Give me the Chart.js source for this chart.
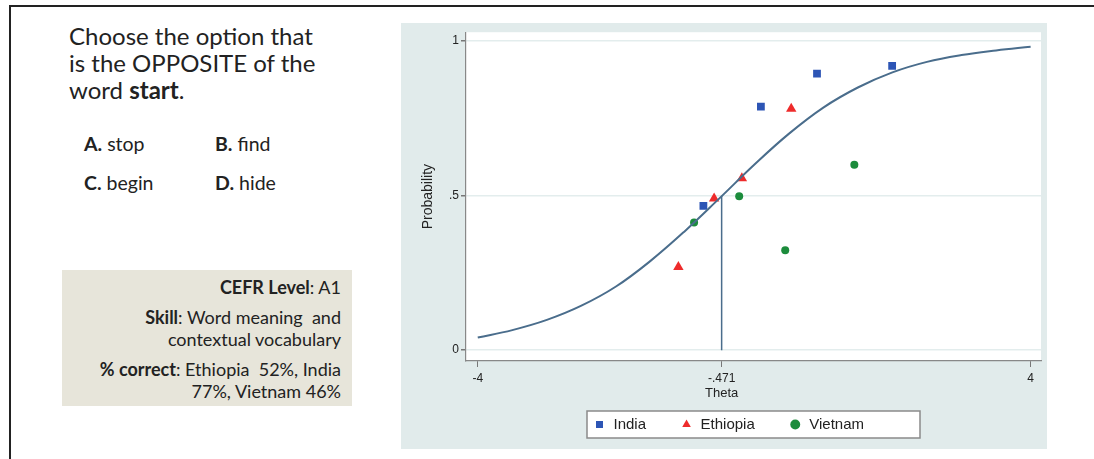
<!DOCTYPE html>
<html>
<head>
<meta charset="utf-8">
<script src="https://cdn.jsdelivr.net/npm/chart.js@4/dist/chart.umd.min.js"></script>
<style>
  body { margin: 0; background: #fff; width: 1094px; height: 459px; overflow: hidden; position: relative; font-family: Lato, "Open Sans", sans-serif; color: #222; }
  .frame-top { position: absolute; left: 9px; top: 5px; width: 1085px; height: 2px; background: #222; }
  .frame-left { position: absolute; left: 9px; top: 5px; width: 2px; height: 454px; background: #222; }
  .question { position: absolute; left: 69px; top: 22px; font-size: 24px; line-height: 27px; white-space: nowrap; }
  .opt { position: absolute; font-size: 19.5px; white-space: nowrap; }
  .info { position: absolute; left: 62px; top: 270px; width: 290px; height: 136px; background: #e7e5da; }
  .info div { position: absolute; right: 11px; font-size: 18px; white-space: nowrap; }
  #wrap { position: absolute; left: 401px; top: 23px; width: 646px; height: 426px; }
</style>
</head>
<body>
<div class="frame-top"></div>
<div class="frame-left"></div>

<div class="question">Choose the option that<br>is the OPPOSITE of the<br>word <b>start</b>.</div>
<div class="opt" style="left:84px; top:132px"><b>A.</b> stop</div>
<div class="opt" style="left:215px; top:132px"><b>B.</b> find</div>
<div class="opt" style="left:84px; top:171px"><b>C.</b> begin</div>
<div class="opt" style="left:215px; top:171px"><b>D.</b> hide</div>

<div class="info">
  <div style="top:6px"><b>CEFR Level</b>: A1</div>
  <div style="top:36px"><b>Skill</b>: Word meaning&nbsp; and</div>
  <div style="top:58px">contextual vocabulary</div>
  <div style="top:88px"><b>% correct</b>: Ethiopia&nbsp; 52%, India</div>
  <div style="top:110px">77%, Vietnam 46%</div>
</div>

<div id="wrap"><canvas id="c" width="646" height="426"></canvas></div>

<script>
// item characteristic curve
const curveTheta = [-4, -3.5, -3, -2.5, -2, -1.5, -1, -0.5, 0, 0.5, 1, 1.5, 2, 2.5, 3, 3.5, 4];
const curveProb = [0.041, 0.065, 0.098, 0.144, 0.206, 0.289, 0.386, 0.492, 0.600, 0.700, 0.785, 0.850, 0.899, 0.933, 0.955, 0.970, 0.982];

// item difficulty marker
const difficulty = -0.471;

// observed proportions by country
const indiaTheta = [-0.735, 0.097, 0.909, 1.996];
const indiaProb = [0.467, 0.788, 0.895, 0.920];
const ethiopiaTheta = [-1.097, -0.580, -0.178, 0.536];
const ethiopiaProb = [0.269, 0.491, 0.556, 0.781];
const vietnamTheta = [-0.870, -0.217, 0.449, 1.449];
const vietnamProb = [0.413, 0.498, 0.323, 0.600];

const xTicks = [-4, difficulty, 4];
const yTicks = [0, 0.5, 1];

const pairs = (xs, ys) => xs.map((x, i) => ({x: x, y: ys[i]}));
const fmt = v => {
  if (v === 0) return '0';
  let s = String(+v.toFixed(3));
  return s.replace(/^(-?)0\./, '$1.');
};

const curveColor = '#4a6d8c';
const axisFont = '"Liberation Sans", Arial, sans-serif';
const legendSize = 15;
const legendPad = 34;

const panelBg = {
  id: 'panelBg',
  beforeDraw(chart) {
    const {ctx, chartArea: a} = chart;
    ctx.save();
    ctx.fillStyle = '#e1ebeb';
    ctx.fillRect(0, 0, chart.width, chart.height);
    ctx.fillStyle = '#ffffff';
    ctx.fillRect(a.left, a.top, a.right - a.left, a.bottom - a.top);
    // white framed box behind the legend items
    const lg = chart.legend;
    const cx = (a.left + a.right) / 2;
    const cy = lg.top + legendPad + legendSize / 2;
    ctx.strokeStyle = '#8a8a8a';
    ctx.lineWidth = 1.5;
    ctx.fillRect(cx - 166.5, cy - 13.5, 333, 27);
    ctx.strokeRect(cx - 166.5, cy - 13.5, 333, 27);
    ctx.restore();
  },
  afterLayout(chart) {
    // items sit a bit right of the canvas centre in the original
    chart.legend.left += 7;
    chart.legend.right += 7;
  },
  afterDraw(chart) {
    const {ctx, chartArea: a, scales} = chart;
    ctx.save();
    // x axis title sits under the difficulty tick
    ctx.fillStyle = '#222';
    ctx.font = '13px ' + axisFont;
    ctx.textAlign = 'center';
    ctx.textBaseline = 'middle';
    ctx.fillText('Theta', scales.x.getPixelForValue(difficulty), a.bottom + 32);
    ctx.restore();
  }
};

new Chart(document.getElementById('c'), {
  type: 'scatter',
  data: {
    datasets: [
      {
        label: 'curve',
        data: pairs(curveTheta, curveProb),
        showLine: true,
        borderColor: curveColor,
        borderWidth: 2,
        pointRadius: 0,
        tension: 0.4
      },
      {
        label: 'b',
        data: [{x: difficulty, y: 0}, {x: difficulty, y: 0.5}],
        showLine: true,
        borderColor: curveColor,
        borderWidth: 1.5,
        pointRadius: 0
      },
      {
        label: 'India',
        data: pairs(indiaTheta, indiaProb),
        pointStyle: 'rect',
        pointRadius: 5.5,
        backgroundColor: '#2d55b5',
        borderColor: '#2d55b5',
        borderWidth: 0
      },
      {
        label: 'Ethiopia',
        data: pairs(ethiopiaTheta, ethiopiaProb),
        pointStyle: 'triangle',
        pointRadius: 6,
        backgroundColor: '#ee2b2b',
        borderColor: '#ee2b2b',
        borderWidth: 0
      },
      {
        label: 'Vietnam',
        data: pairs(vietnamTheta, vietnamProb),
        pointStyle: 'circle',
        pointRadius: 4,
        backgroundColor: '#1c8c3c',
        borderColor: '#1c8c3c',
        borderWidth: 0
      }
    ]
  },
  options: {
    responsive: false,
    animation: false,
    layout: {padding: {top: 8, right: 5, bottom: 7, left: 0}},
    scales: {
      x: {
        type: 'linear',
        min: -4.17,
        max: 4.15,
        afterBuildTicks: s => { s.ticks = xTicks.map(v => ({value: v})); },
        afterFit: s => { s.height = 22; },
        ticks: {
          callback: v => fmt(v),
          color: '#222',
          padding: 4,
          maxRotation: 0,
          autoSkip: false,
          font: {family: axisFont, size: 12}
        },
        grid: {drawOnChartArea: false, tickLength: 6, tickColor: '#777'},
        border: {color: '#888', width: 1.2}
      },
      y: {
        type: 'linear',
        min: -0.035,
        max: 1.029,
        afterBuildTicks: s => { s.ticks = yTicks.map(v => ({value: v})); },
        afterFit: s => { s.width = 65; },
        ticks: {
          callback: v => fmt(v),
          color: '#222',
          padding: 2,
          font: {family: axisFont, size: 12}
        },
        grid: {color: '#e3eded', lineWidth: 1.5, tickLength: 5, tickColor: '#777'},
        border: {color: '#888', width: 1.2},
        title: {
          display: true,
          text: 'Probability',
          color: '#222',
          padding: {top: 19, bottom: 0},
          font: {family: axisFont, size: 14}
        }
      }
    },
    plugins: {
      tooltip: {enabled: false},
      legend: {
        position: 'bottom',
        labels: {
          filter: item => item.datasetIndex >= 2,
          usePointStyle: true,
          boxWidth: 13,
          boxHeight: 7,
          padding: legendPad,
          color: '#222',
          font: {family: axisFont, size: legendSize}
        }
      }
    }
  },
  plugins: [panelBg]
});
</script>
</body>
</html>
